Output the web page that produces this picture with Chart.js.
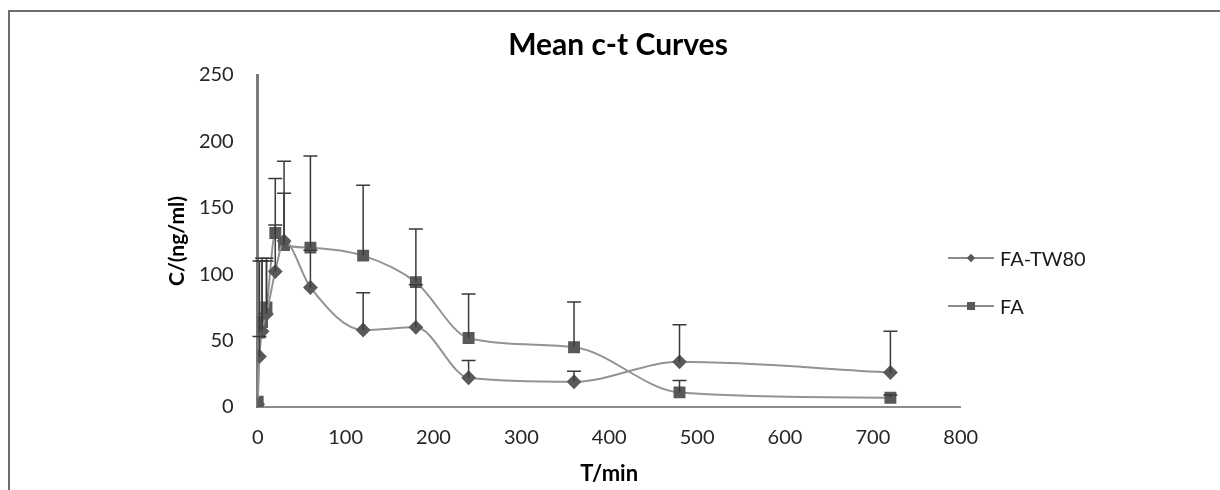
<!DOCTYPE html>
<html>
<head>
<meta charset="utf-8">
<title>Mean c-t Curves</title>
<script src="https://cdn.jsdelivr.net/npm/chart.js@4.4.1/dist/chart.umd.min.js"></script>
<style>
    html, body { margin: 0; padding: 0; background: #fff; }
    #wrap { position: relative; width: 1220px; height: 490px; overflow: hidden; }
    #frame { position: absolute; left: 8px; top: 10px; right: -10px; bottom: -10px;
             border-top: 2px solid #6e6e6e; border-left: 2px solid #6e6e6e; }
    #chart { position: absolute; left: 0; top: 0; }
    #legend { position: absolute; left: 948px; top: 245px; font-family: Lato, sans-serif;
              font-size: 20px; color: #1a1a1a; }
    .item { display: flex; align-items: center; height: 26px; margin-bottom: 22px; }
    .sym { position: relative; width: 46px; height: 20px; margin-right: 6px; }
    .sym .ln { position: absolute; left: 0; right: 0; top: 9px; height: 2px; background: #8c8c8c; }
    .sym .mk { position: absolute; background: #595959; }
</style>
</head>
<body>
<div id="wrap">
    <div id="frame"></div>
    <canvas id="chart" width="1220" height="490"></canvas>
    <div id="legend"></div>
</div>
<script>
// sampling times (min)
const times = [0, 2, 5, 10, 20, 30, 60, 120, 180, 240, 360, 480, 720];

// FA-TW80 mean concentration and top of its error bar (ng/ml)
const faTw80 = [2, 38, 57, 70, 102, 125, 90, 58, 60, 22, 19, 34, 26];
const faTw80Top = [null, 53, 110, 112, 137, 185, 118, 86, 92, 35, 27, 62, 57];

// FA mean concentration and top of its error bar (ng/ml)
const fa = [4, 56, 64, 75, 131, 122, 120, 114, 94, 52, 45, 11, 7];
const faTop = [null, 110, 112, 110, 172, 161, 189, 167, 134, 85, 79, 20, 9];

const xTickValues = [0, 100, 200, 300, 400, 500, 600, 700, 800];
const yTickValues = [0, 50, 100, 150, 200, 250];

const seriesLabels = ['FA-TW80', 'FA'];

function points(values) {
    return times.map((t, i) => ({ x: t, y: values[i] }));
}

// draws the upper error bars through the chart's own scales
const errorBars = {
    id: 'errorBars',
    afterDatasetsDraw(chart) {
        const ctx = chart.ctx;
        const xs = chart.scales.x;
        const ys = chart.scales.y;
        ctx.save();
        ctx.strokeStyle = '#3a3a3a';
        ctx.lineWidth = 1.5;
        chart.data.datasets.forEach(ds => {
            ds.errTop.forEach((top, i) => {
                if (top == null) return;
                const px = xs.getPixelForValue(ds.data[i].x);
                const py = ys.getPixelForValue(ds.data[i].y);
                const pt = ys.getPixelForValue(top);
                ctx.beginPath();
                ctx.moveTo(px, py);
                ctx.lineTo(px, pt);
                ctx.moveTo(px - 7, pt);
                ctx.lineTo(px + 7, pt);
                ctx.stroke();
            });
        });
        ctx.restore();
    }
};

const ctx = document.getElementById('chart').getContext('2d');
const chart = new Chart(ctx, {
    type: 'line',
    data: {
        datasets: [{
            label: seriesLabels[0],
            data: points(faTw80),
            errTop: faTw80Top,
            borderColor: '#939393',
            borderWidth: 2,
            cubicInterpolationMode: 'monotone',
            pointStyle: 'rectRot',
            pointRadius: 6,
            pointBackgroundColor: '#595959',
            pointBorderColor: '#595959',
            fill: false
        }, {
            label: seriesLabels[1],
            data: points(fa),
            errTop: faTop,
            borderColor: '#939393',
            borderWidth: 2,
            cubicInterpolationMode: 'monotone',
            pointStyle: 'rect',
            pointRadius: 7,
            pointBackgroundColor: '#595959',
            pointBorderColor: '#595959',
            fill: false
        }]
    },
    options: {
        responsive: false,
        animation: false,
        layout: { padding: { left: 16, right: 0, top: 0, bottom: 0 } },
        plugins: {
            legend: { display: false },
            tooltip: { enabled: false },
            title: {
                display: true,
                text: 'Mean c-t Curves',
                color: '#000',
                font: { family: 'Lato', size: 30, weight: 'bold' },
                padding: { top: 27, bottom: 12 }
            }
        },
        scales: {
            x: {
                type: 'linear',
                min: 0,
                max: 800,
                afterBuildTicks: s => { s.ticks = xTickValues.map(v => ({ value: v })); },
                afterFit: s => { s.height = 83; s.paddingLeft = 0; s.paddingRight = 0; },
                grid: { display: false, drawTicks: false },
                border: { color: '#8c8c8c', width: 2 },
                ticks: { color: '#262626', padding: 19, font: { family: 'Lato', size: 20 } },
                title: {
                    display: true,
                    text: 'T/min',
                    color: '#000',
                    font: { family: 'Lato', size: 22, weight: 'bold' },
                    padding: { top: 0, bottom: 3 }
                }
            },
            y: {
                min: 0,
                max: 250,
                afterBuildTicks: s => { s.ticks = yTickValues.map(v => ({ value: v })); },
                afterFit: s => { s.width = 241.7; s.paddingTop = 0; s.paddingBottom = 0; },
                grid: { display: false, drawTicks: false },
                border: { color: '#7a7a7a', width: 3 },
                ticks: { color: '#262626', padding: 24, font: { family: 'Lato', size: 20 } },
                title: {
                    display: true,
                    text: 'C/(ng/ml)',
                    color: '#000',
                    font: { family: 'Lato', size: 21, weight: 'bold' },
                    padding: { top: 149, bottom: 0 }
                }
            },
            // empty right-hand space where the legend sits
            yPad: {
                position: 'right',
                afterFit: s => { s.width = 259.3; },
                grid: { display: false, drawTicks: false },
                border: { display: false },
                ticks: { display: false }
            }
        }
    },
    plugins: [errorBars]
});

// legend built from the datasets
const legend = document.getElementById('legend');
chart.data.datasets.forEach(ds => {
    const item = document.createElement('div');
    item.className = 'item';
    const sym = document.createElement('div');
    sym.className = 'sym';
    const ln = document.createElement('div');
    ln.className = 'ln';
    const mk = document.createElement('div');
    mk.className = 'mk';
    if (ds.pointStyle === 'rectRot') {
        mk.style.cssText = 'left:20px;top:7px;width:6px;height:6px;transform:rotate(45deg);';
    } else {
        mk.style.cssText = 'left:19px;top:6px;width:8px;height:8px;';
    }
    sym.appendChild(ln);
    sym.appendChild(mk);
    const txt = document.createElement('span');
    txt.textContent = ds.label;
    item.appendChild(sym);
    item.appendChild(txt);
    legend.appendChild(item);
});
</script>
</body>
</html>
